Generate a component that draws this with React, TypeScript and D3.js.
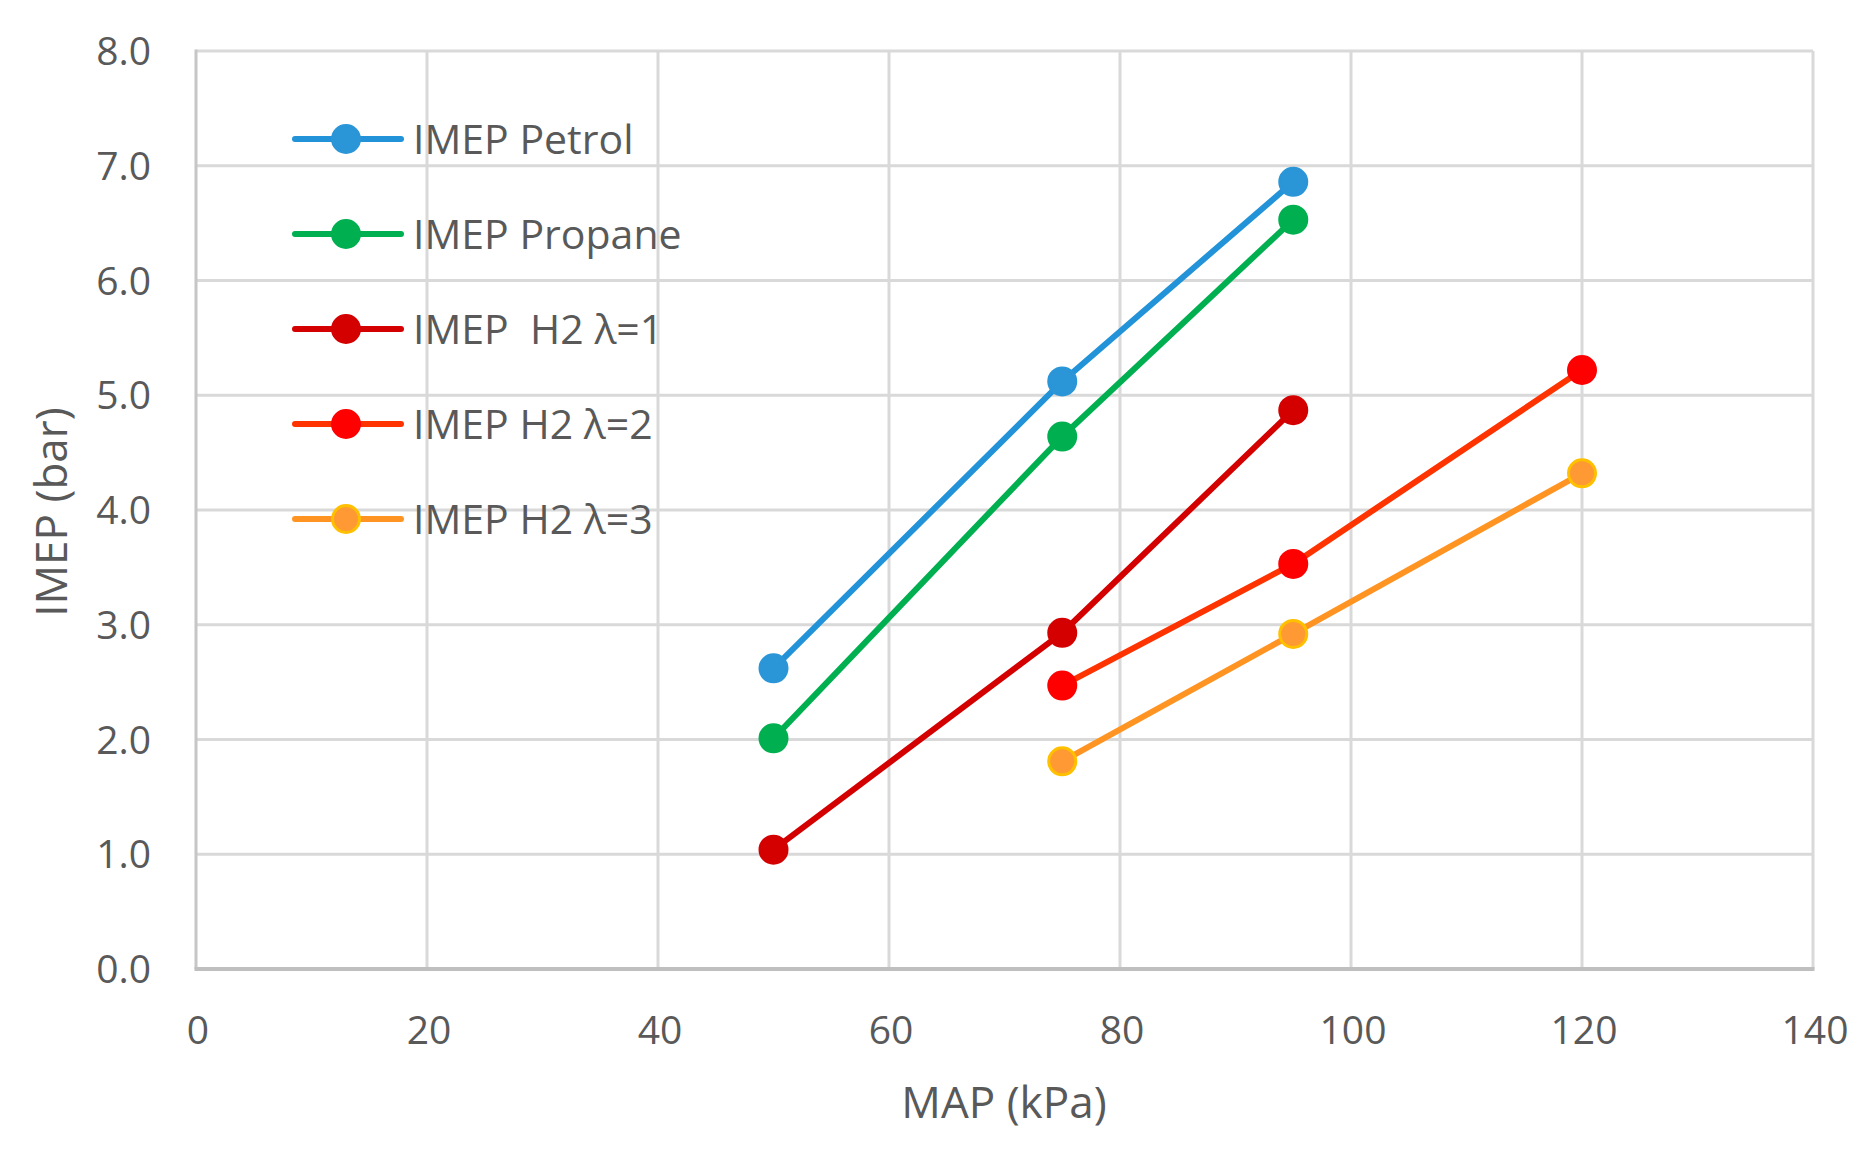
import React from "react";
import * as d3 from "d3";

const mapKPa = [50, 75, 95, 120];
const petrol = [2.62, 5.12, 6.86, null];
const propane = [2.01, 4.64, 6.53, null];
const h2Lambda1 = [1.04, 2.93, 4.87, null];
const h2Lambda2 = [null, 2.47, 3.53, 5.22];
const h2Lambda3 = [null, 1.81, 2.92, 4.32];

const xTicks = [0, 20, 40, 60, 80, 100, 120, 140];
const yTicks = [0, 1, 2, 3, 4, 5, 6, 7, 8];

const seriesNames = ["IMEP Petrol", "IMEP Propane", "IMEP  H2 \u03bb=1", "IMEP H2 \u03bb=2", "IMEP H2 \u03bb=3"];
const seriesValues = [petrol, propane, h2Lambda1, h2Lambda2, h2Lambda3];
const lineColors = ["#2293d8", "#00b050", "#d40000", "#ff3300", "#ff9422"];
const markerFills = ["#2a95d7", "#00b050", "#d40000", "#ff0000", "#ff9933"];
const markerStrokes = ["#2a95d7", "#00b050", "#d40000", "#ff0000", "#ffc000"];

const W = 1875;
const H = 1155;
const left = 196;
const right = 1813;
const top = 51;
const bottom = 969;

const FONT = "'Open Sans', 'Noto Sans', sans-serif";
const TXT = "#595959";

export default function App() {
  const x = d3.scaleLinear().domain([0, 140]).range([left, right]);
  const y = d3.scaleLinear().domain([0, 8]).range([bottom, top]);

  const series = seriesNames.map((name, i) => ({
    name,
    points: mapKPa
      .map((m, j) => ({ x: m, y: seriesValues[i][j] }))
      .filter((p) => p.y !== null) as { x: number; y: number }[],
    line: lineColors[i],
    fill: markerFills[i],
    stroke: markerStrokes[i],
  }));

  const lineGen = d3
    .line<{ x: number; y: number }>()
    .x((d) => x(d.x))
    .y((d) => y(d.y));

  const legendX0 = 295;
  const legendX1 = 401;
  const legendMarkerX = 346;
  const legendY0 = 139;
  const legendStep = 95;

  return (
    <svg
      width={W}
      height={H}
      style={{ position: "absolute", left: 0, top: 0, background: "#fff" }}
      fontFamily={FONT}
    >
      <rect x={0} y={0} width={W} height={H} fill="#fff" />
      {xTicks.slice(1).map((t) => (
        <line key={"vx" + t} x1={x(t)} x2={x(t)} y1={top} y2={bottom} stroke="#d9d9d9" strokeWidth={3} />
      ))}
      {yTicks.slice(1).map((t) => (
        <line key={"hy" + t} x1={left} x2={right} y1={y(t)} y2={y(t)} stroke="#d9d9d9" strokeWidth={3} />
      ))}
      <line x1={left} x2={left} y1={top - 1.5} y2={bottom} stroke="#c6c6c6" strokeWidth={3} />
      <line x1={left - 1.5} x2={right + 1.5} y1={bottom} y2={bottom} stroke="#bfbfbf" strokeWidth={4} />

      {yTicks.map((t) => (
        <text key={"yt" + t} x={151} y={y(t)} dy="0.36em" textAnchor="end" fontSize={39} fill={TXT}>
          {t.toFixed(1)}
        </text>
      ))}
      {xTicks.map((t) => (
        <text key={"xt" + t} x={x(t) + 2} y={1044} textAnchor="middle" fontSize={39} fill={TXT}>
          {t}
        </text>
      ))}

      <text x={1004} y={1118} textAnchor="middle" fontSize={44} fill={TXT}>
        MAP (kPa)
      </text>
      <text transform={`translate(67,512) rotate(-90)`} textAnchor="middle" fontSize={44} fill={TXT}>
        IMEP (bar)
      </text>

      {series.map((s, i) => (
        <g key={"s" + i}>
          <path d={lineGen(s.points) || ""} fill="none" stroke={s.line} strokeWidth={6} strokeLinejoin="round" />
          {s.points.map((p, j) => (
            <circle key={j} cx={x(p.x)} cy={y(p.y)} r={13.5} fill={s.fill} stroke={s.stroke} strokeWidth={3} />
          ))}
        </g>
      ))}

      {series.map((s, i) => {
        const ly = legendY0 + i * legendStep;
        return (
          <g key={"lg" + i}>
            <line x1={legendX0} x2={legendX1} y1={ly} y2={ly} stroke={s.line} strokeWidth={6} strokeLinecap="round" />
            <circle cx={legendMarkerX} cy={ly} r={13.5} fill={s.fill} stroke={s.stroke} strokeWidth={3} />
            <text x={413} y={ly} dy="0.36em" fontSize={41} fill={TXT} style={{ whiteSpace: "pre" }}>
              {s.name}
            </text>
          </g>
        );
      })}
    </svg>
  );
}
